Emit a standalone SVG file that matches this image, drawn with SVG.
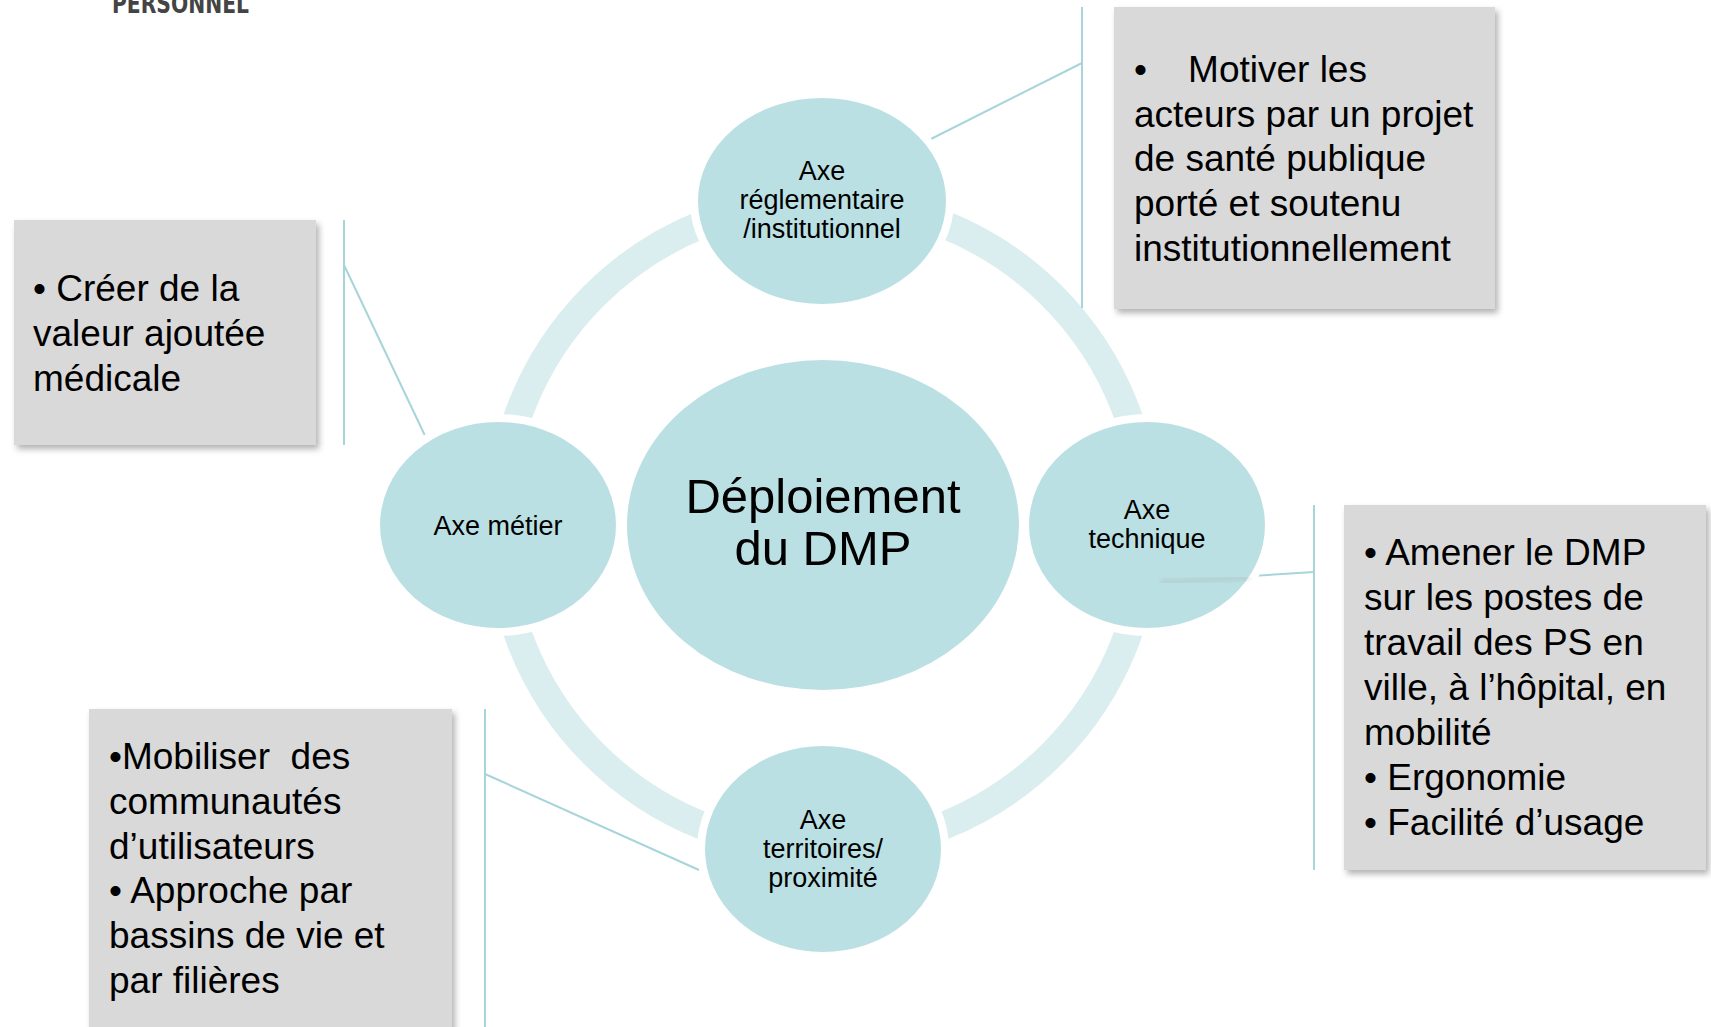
<svg xmlns="http://www.w3.org/2000/svg" width="1711" height="1027" viewBox="0 0 1711 1027">
<style>
.node{fill:#bbe0e3;stroke:#fff;stroke-width:8}
.center{fill:#bbe0e3}
.lbl{font-family:"Liberation Sans",Arial,sans-serif;font-size:27px;fill:#000;text-anchor:middle}
.big{font-family:"Liberation Sans",Arial,sans-serif;font-size:49px;fill:#000;text-anchor:middle}
.box{fill:#d9d9d9}
.bt{font-family:"Liberation Sans",Arial,sans-serif;font-size:37px;fill:#000}
.con{stroke:#a7d5da;stroke-width:2;fill:none}
</style>
<defs>
<filter id="sh" x="-10%" y="-10%" width="130%" height="130%">
<feDropShadow dx="3" dy="4" stdDeviation="3" flood-color="#000" flood-opacity="0.3"/>
</filter>
<filter id="blur"><feGaussianBlur stdDeviation="2"/></filter>
</defs>
<rect width="1711" height="1027" fill="#fff"/>
<text x="112" y="13" font-family="'DejaVu Sans Condensed','Liberation Sans',sans-serif" font-weight="bold" font-size="26" fill="#444" textLength="137" lengthAdjust="spacingAndGlyphs">PERSONNEL</text>
<g id="ring">
<circle cx="823" cy="525" r="324" fill="none" stroke="#daedef" stroke-width="28"/>
</g>
<g id="connectors">
<line class="con" x1="1082" y1="7" x2="1082" y2="308"/>
<line class="con" x1="1082" y1="63" x2="925" y2="142"/>
<line class="con" x1="344" y1="220" x2="344" y2="445"/>
<line class="con" x1="344" y1="265" x2="428" y2="442"/>
<line class="con" x1="1314" y1="505" x2="1314" y2="870"/>
<line class="con" x1="1314" y1="572" x2="1251" y2="576"/>
<line class="con" x1="485" y1="709" x2="485" y2="1027"/>
<line class="con" x1="485" y1="774" x2="699" y2="870"/>
</g>
<g id="n-center">
<ellipse class="center" cx="823" cy="525" rx="196" ry="165"/>
<text class="big" x="823" y="513">Déploiement</text>
<text class="big" x="823" y="565">du DMP</text>
</g>
<g id="n-top">
<ellipse class="node" cx="822" cy="201" rx="128" ry="107"/>
<text class="lbl" x="822" y="180">Axe</text>
<text class="lbl" x="822" y="209">réglementaire</text>
<text class="lbl" x="822" y="238">/institutionnel</text>
</g>
<g id="n-left">
<ellipse class="node" cx="498" cy="525" rx="122" ry="107"/>
<text class="lbl" x="498" y="535">Axe métier</text>
</g>
<g id="n-right">
<ellipse class="node" cx="1147" cy="525" rx="122" ry="107"/>
<text class="lbl" x="1147" y="519">Axe</text>
<text class="lbl" x="1147" y="548">technique</text>
<line x1="1250" y1="578" x2="1160" y2="582" stroke="#999" stroke-width="3" opacity="0.35" filter="url(#blur)"/>
</g>
<g id="n-bottom">
<ellipse class="node" cx="823" cy="849" rx="122" ry="107"/>
<text class="lbl" x="823" y="829">Axe</text>
<text class="lbl" x="823" y="858">territoires/</text>
<text class="lbl" x="823" y="887">proximité</text>
</g>
<g id="b-top">
<rect class="box" x="1114" y="7" width="381" height="302" filter="url(#sh)"/>
<text class="bt" x="1134" y="82" xml:space="preserve">•    Motiver les</text>
<text class="bt" x="1134" y="127">acteurs par un projet</text>
<text class="bt" x="1134" y="171">de santé publique</text>
<text class="bt" x="1134" y="216">porté et soutenu</text>
<text class="bt" x="1134" y="261">institutionnellement</text>
</g>
<g id="b-left">
<rect class="box" x="14" y="220" width="302" height="225" filter="url(#sh)"/>
<text class="bt" x="33" y="301">• Créer de la</text>
<text class="bt" x="33" y="346">valeur ajoutée</text>
<text class="bt" x="33" y="391">médicale</text>
</g>
<g id="b-right">
<rect class="box" x="1344" y="505" width="362" height="365" filter="url(#sh)"/>
<text class="bt" x="1364" y="565">• Amener le DMP</text>
<text class="bt" x="1364" y="610">sur les postes de</text>
<text class="bt" x="1364" y="655">travail des PS en</text>
<text class="bt" x="1364" y="700">ville, à l’hôpital, en</text>
<text class="bt" x="1364" y="745">mobilité</text>
<text class="bt" x="1364" y="790">• Ergonomie</text>
<text class="bt" x="1364" y="835">• Facilité d’usage</text>
</g>
<g id="b-bottom">
<rect class="box" x="89" y="709" width="363" height="330" filter="url(#sh)"/>
<text class="bt" x="109" y="769" xml:space="preserve">•Mobiliser  des</text>
<text class="bt" x="109" y="814">communautés</text>
<text class="bt" x="109" y="859">d’utilisateurs</text>
<text class="bt" x="109" y="903">• Approche par</text>
<text class="bt" x="109" y="948">bassins de vie et</text>
<text class="bt" x="109" y="993">par filières</text>
</g>
</svg>
